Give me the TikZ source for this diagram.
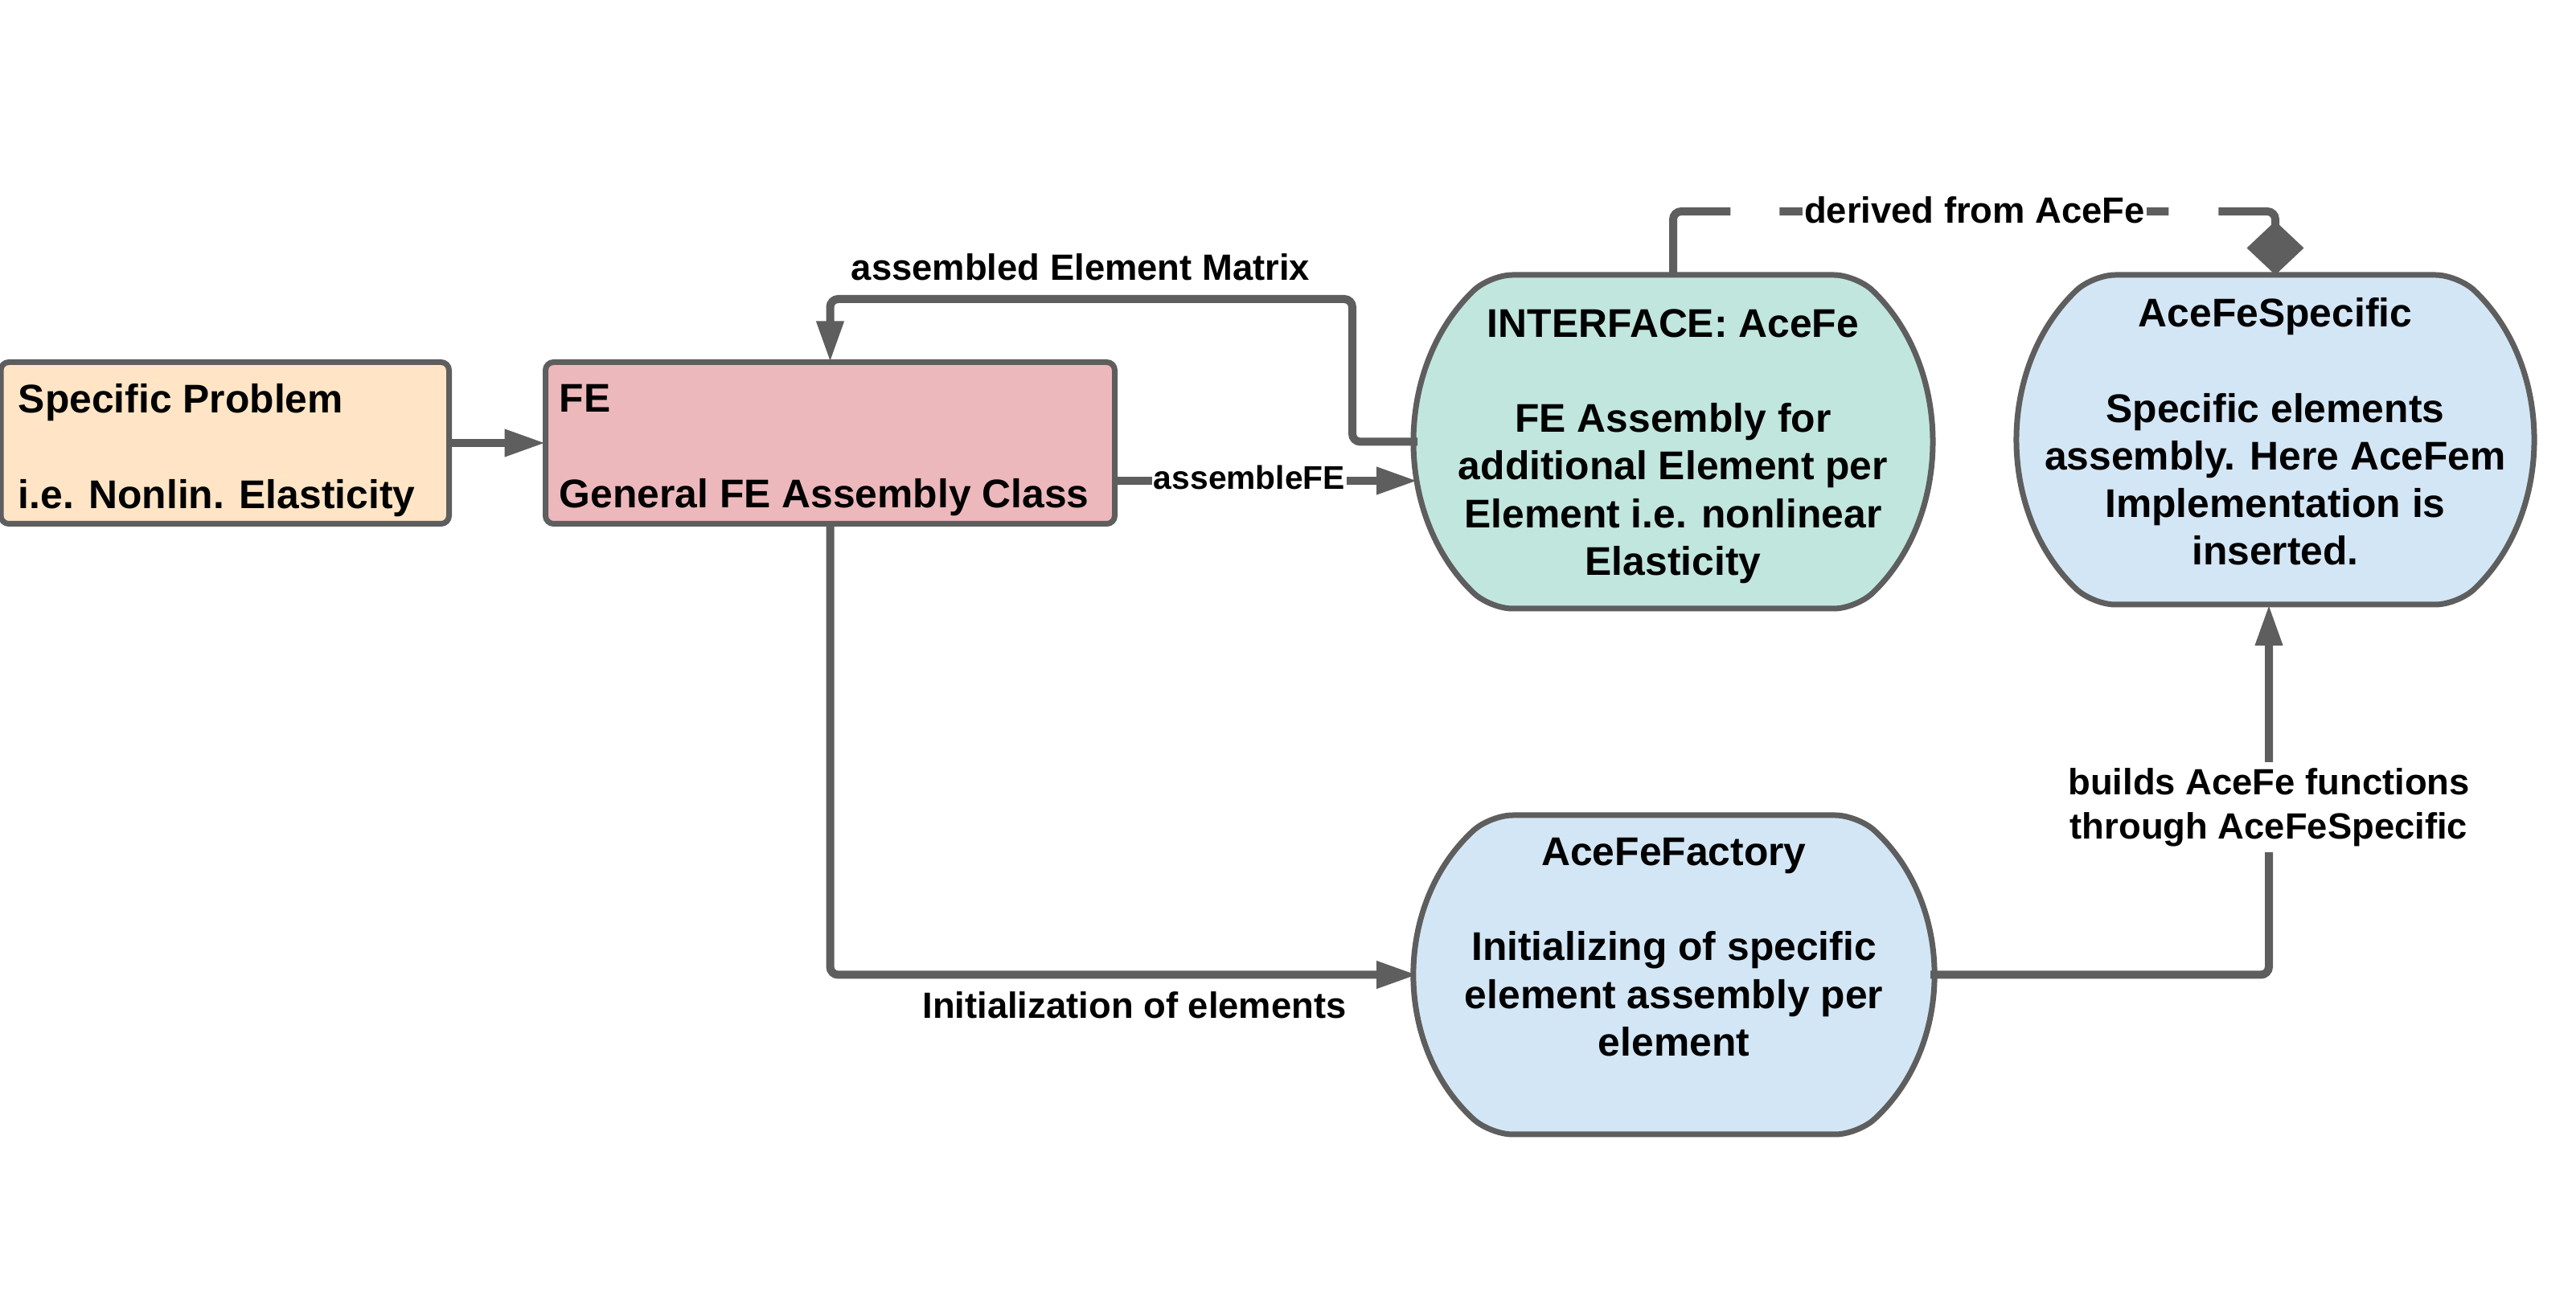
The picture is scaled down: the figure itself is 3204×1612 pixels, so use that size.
\documentclass[tikz,border=0pt]{standalone}
\usepackage{fontspec}
\setmainfont{Liberation Sans}
\usetikzlibrary{arrows.meta,calc}
\definecolor{lg}{HTML}{5E5E5E}
\definecolor{peach}{HTML}{FFE5C5}
\definecolor{pinkfe}{HTML}{EDB8BC}
\definecolor{mint}{HTML}{C1E6DE}
\definecolor{lblue}{HTML}{D3E6F5}
\newcommand{\barrelpath}[4]{%
  \pgfmathsetmacro{\brlb}{#3/0.6972}%
  \pgfmathsetmacro{\brlf}{#2*0.7169}%
  \path[barrel,fill=#4] ($(#1.center)+(0,-#3)$) -- ($(#1.center)+(\brlf,-#3)$)
    arc[start angle=-44.2,end angle=44.2,x radius=#2,y radius=\brlb]
    -- ($(#1.center)+(-\brlf,#3)$)
    arc[start angle=135.8,end angle=224.2,x radius=#2,y radius=\brlb] -- cycle;}
\tikzset{
  holder/.style={draw=none,inner sep=0pt,outer sep=0pt},
  rectbox/.style={draw=lg,line width=1.75pt,rounded corners=2.5pt,inner sep=0pt,outer sep=0pt},
  barrel/.style={draw=lg,line width=1.75pt,rounded corners=7pt},
  boxtext/.style={inner sep=0pt,font=\bfseries\fontsize{12.45pt}{14.8pt}\selectfont},
  lbl/.style={inner sep=0pt,font=\bfseries\fontsize{11.35pt}{13.75pt}\selectfont},
  lblbg/.style={lbl,fill=white,inner xsep=0.5pt,inner ysep=1.8pt},
  conn/.style={draw=lg,line width=2.5pt,rounded corners=2.5pt},
  tri/.style={-{Triangle[length=12.75pt,width=8pt]}},
  dia/.style={-{Diamond[length=16.75pt,width=17.75pt]}},
}
\begin{document}
\begin{tikzpicture}[x=0.25pt,y=-0.25pt]
\useasboundingbox (0,0) rectangle (3204,1612);
% rectangles
\node[rectbox,fill=peach,minimum width=139.375pt,minimum height=50.25pt] (sp) at (279.75,551) {};
\node[rectbox,fill=pinkfe,minimum width=177pt,minimum height=50.25pt] (fe) at (1032.5,551) {};
\node[boxtext,align=left,anchor=west] (spT) at (22,560) {Specific Problem\\[14.8pt]i.e. Nonlin. Elasticity};
\node[boxtext,align=left,anchor=west] (feT) at (695,560) {FE\\[14.8pt]General FE Assembly Class};
% barrels
\node[holder,minimum width=159pt,minimum height=103.75pt] (iface) at (2081,549.5) {};
\barrelpath{iface}{318}{207.5}{mint}
\node[boxtext,align=center] (ifaceT) at (2081,555) {INTERFACE: AceFe\\[14.8pt]FE Assembly for\\additional Element per\\Element i.e. nonlinear\\Elasticity};
\node[holder,minimum width=158.5pt,minimum height=102.5pt] (spec) at (2830,547) {};
\barrelpath{spec}{317}{205}{lblue}
\node[boxtext,align=center] (specT) at (2830,537) {AceFeSpecific\\[14.8pt]Specific elements\\assembly. Here AceFem\\Implementation is\\inserted.};
\node[holder,minimum width=159.5pt,minimum height=99.25pt] (fact) at (2082,1212.5) {};
\barrelpath{fact}{319}{198.5}{lblue}
\node[boxtext,align=center] (factT) at (2082,1178) {AceFeFactory\\[14.8pt]Initializing of specific\\element assembly per\\element};
% connectors
\draw[conn,tri] (sp.east) -- (fe.west);
\coordinate (bendA) at (1682,372);
\draw[conn,tri] (iface.west) -| (bendA) -| (fe.north);
\node[lbl] (lblA) at (1344,332) {assembled Element Matrix};
\coordinate (afeS) at ($(fe.east)+(0,47)$);
\draw[conn,tri] (afeS) -- (afeS -| iface.west);
\node[lblbg,font=\bfseries\fontsize{10.2pt}{12pt}\selectfont,inner ysep=1pt] (lblB) at (1554,594) {assembleFE};
\draw[conn,tri] (fe.south) |- (fact.west);
\node[lbl] (lblC) at (1411,1250) {Initialization of elements};
\coordinate (specB) at ($(spec.south)+(-8,0)$);
\draw[conn,tri] (fact.east) -| (specB);
\node[lblbg,align=center] (lblD) at (2822,1004) {builds AceFe functions\\through AceFeSpecific};
\draw[conn,dia,dash pattern=on 36.5pt off 15.25pt on 121pt off 15.5pt on 80pt] (iface.north) -- ++(0,-79) -| (spec.north);
\node[lblbg,inner ysep=0.5pt] (lblE) at (2456,261) {derived from AceFe};
\end{tikzpicture}
\end{document}
